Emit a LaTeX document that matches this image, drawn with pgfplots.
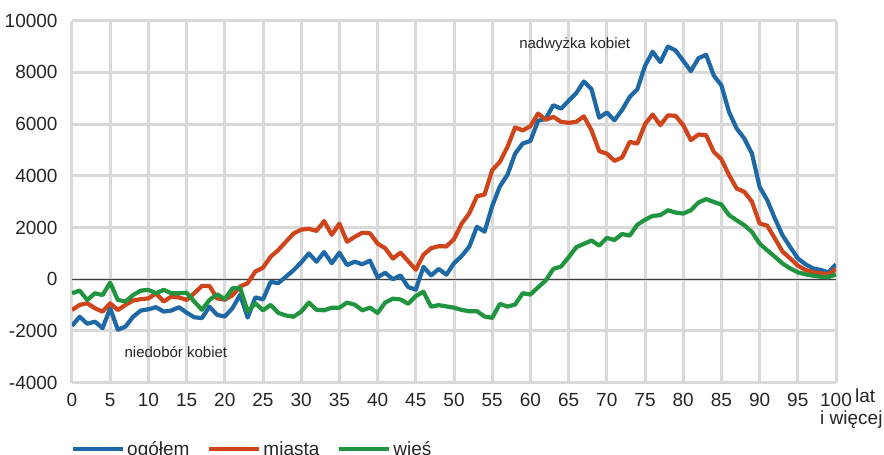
\documentclass[border=0pt]{standalone}
\usepackage{pgfplots}
\pgfplotsset{compat=1.18}
\usepackage{pgfplotstable}
\usepackage{fontspec}
\setmainfont{Liberation Sans}

\definecolor{cblue}{RGB}{30,105,165}
\definecolor{cred}{RGB}{208,68,28}
\definecolor{cgreen}{RGB}{32,148,62}
\definecolor{gridc}{RGB}{217,217,217}

\pgfplotstableread{
age og mi wi
0 -1800 -1190 -540
1 -1450 -990 -440
2 -1720 -930 -800
3 -1640 -1120 -540
4 -1890 -1250 -610
5 -1120 -930 -130
6 -1950 -1190 -800
7 -1830 -990 -860
8 -1450 -820 -610
9 -1210 -770 -440
10 -1160 -740 -410
11 -1080 -550 -540
12 -1250 -860 -410
13 -1210 -670 -540
14 -1080 -700 -540
15 -1290 -800 -520
16 -1470 -540 -860
17 -1500 -260 -1180
18 -1060 -260 -800
19 -1380 -740 -580
20 -1440 -790 -770
21 -1120 -620 -350
22 -600 -280 -330
23 -1480 -150 -1250
24 -700 300 -930
25 -780 450 -1200
26 -100 870 -990
27 -150 1130 -1300
28 100 1450 -1400
29 350 1770 -1450
30 650 1920 -1250
31 1000 1950 -900
32 680 1870 -1180
33 1050 2250 -1200
34 620 1720 -1100
35 1030 2150 -1100
36 550 1450 -900
37 680 1640 -980
38 580 1800 -1200
39 720 1780 -1100
40 80 1380 -1300
41 250 1200 -900
42 0 800 -750
43 150 1030 -780
44 -300 700 -950
45 -400 370 -650
46 480 950 -480
47 150 1200 -1060
48 400 1280 -1000
49 180 1270 -1050
50 620 1550 -1100
51 900 2150 -1185
52 1260 2550 -1236
53 2030 3210 -1236
54 1840 3280 -1440
55 2830 4220 -1493
56 3590 4540 -952
57 4040 5120 -1055
58 4860 5870 -978
59 5250 5760 -540
60 5350 5920 -592
61 6130 6410 -309
62 6210 6170 -51
63 6730 6280 400
64 6600 6090 490
65 6900 6050 850
66 7200 6090 1240
67 7650 6300 1370
68 7350 5760 1500
69 6250 4960 1300
70 6450 4860 1600
71 6150 4580 1520
72 6550 4710 1750
73 7050 5310 1690
74 7350 5250 2110
75 8250 6000 2300
76 8800 6370 2450
77 8400 5960 2480
78 9000 6340 2670
79 8850 6320 2580
80 8450 5960 2540
81 8050 5380 2670
82 8550 5600 2970
83 8680 5570 3100
84 7880 4930 2990
85 7500 4640 2890
86 6470 4030 2480
87 5830 3510 2280
88 5440 3380 2090
89 4860 3000 1830
90 3570 2160 1380
91 3060 2070 1120
92 2350 1580 870
93 1700 1070 610
94 1250 810 420
95 810 530 270
96 580 360 190
97 420 270 140
98 360 230 100
99 270 190 80
100 580 400 190
}\data

\begin{document}
\begin{tikzpicture}
\begin{axis}[name=ax, scale only axis, width=764bp, height=362bp,
  xmin=0, xmax=100, ymin=-4000, ymax=10000,
  scaled ticks=false,
  xtick={0,5,10,15,20,25,30,35,40,45,50,55,60,65,70,75,80,85,90,95,100},
  xticklabels={0,5,10,15,20,25,30,35,40,45,50,55,60,65,70,75,80,85,90,95,100},
  ytick={-4000,-2000,0,2000,4000,6000,8000,10000},
  yticklabels={-4000,-2000,0,2000,4000,6000,8000,10000},
  axis line style={draw=none},
  tick align=outside, tick style={draw=none},
  xmajorgrids=true, ymajorgrids=true,
  major grid style={draw=gridc, line width=3bp},
  tick label style={font=\fontsize{19bp}{22bp}\selectfont, text=black!85},
  xticklabel style={anchor=base, yshift=-19.3bp, inner sep=0pt},
  yticklabel style={anchor=east, xshift=-10bp, inner sep=0pt},
  xticklabel shift=0pt, yticklabel shift=0pt,
  legend columns=3,
  legend style={at={(0,0)}, anchor=west, xshift=-1bp, yshift=-67bp, draw=none, fill=none, inner sep=0pt,
    font=\fontsize{19bp}{22bp}\selectfont, text=black!85,
    /tikz/every even column/.append style={column sep=16bp}},
  legend image code/.code={\draw[#1, line width=4bp] (0bp,0.5bp) -- (50bp,0.5bp);},
]
\addplot[forget plot, color=black!75, line width=1.3bp] coordinates {(0,0) (100,0)};
\addplot[cblue, line width=4.2bp, line join=round] table[x=age, y=og] {\data};
\addplot[cred, line width=4.2bp, line join=round] table[x=age, y=mi] {\data};
\addplot[cgreen, line width=4.2bp, line join=round] table[x=age, y=wi] {\data};
\legend{ogółem, miasta, wieś}
\node[anchor=base, font=\fontsize{15bp}{18bp}\selectfont, text=black!85] at (axis cs:65.8,8930) {nadwyżka kobiet};
\node[anchor=base, font=\fontsize{15bp}{18bp}\selectfont, text=black!85] at (axis cs:13.6,-3040) {niedobór kobiet};
\end{axis}
\node[anchor=base west, inner sep=0pt, font=\fontsize{19bp}{22bp}\selectfont, text=black!85] at ([shift={(19bp,-19.3bp)}]ax.south east) {lat};
\node[anchor=base west, inner sep=0pt, font=\fontsize{19bp}{22bp}\selectfont, text=black!85] at ([shift={(-16bp,-41.3bp)}]ax.south east) {i więcej};
\pgfresetboundingbox
\path ([shift={(-72bp,-72.3bp)}]ax.south west) rectangle ([shift={(48bp,20.7bp)}]ax.north east);
\end{tikzpicture}
\end{document}
